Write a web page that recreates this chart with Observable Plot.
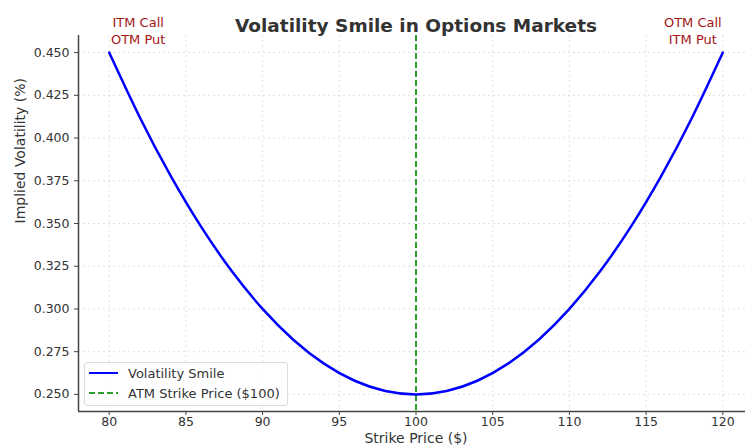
<!DOCTYPE html>
<html><head><meta charset="utf-8">
<script src="https://cdn.jsdelivr.net/npm/d3@7"></script>
<script src="https://cdn.jsdelivr.net/npm/@observablehq/plot@0.6"></script>
<style>
body{margin:0;background:#fff;font-family:"DejaVu Sans",sans-serif;}
#wrap{position:relative;width:745px;height:448px;overflow:hidden;}
#chart svg{max-width:none !important;}
#legend{position:absolute;left:84px;top:362px;width:204px;height:44px;border:1px solid #ddd;border-radius:3px;background:rgba(255,255,255,0.85);font-size:13px;color:#333;box-sizing:border-box;}
.row{position:absolute;left:4px;height:16px;display:flex;align-items:center;white-space:nowrap;}
.row svg{margin-right:10px;}
</style></head>
<body><div id="wrap"><div id="chart"></div>
<div id="legend">
<div class="row" style="top:2px"><svg width="29" height="4"><line x1="0" y1="2" x2="29" y2="2" stroke="#0000ff" stroke-width="2"/></svg>Volatility Smile</div>
<div class="row" style="top:22px"><svg width="29" height="4"><line x1="0" y1="2" x2="29" y2="2" stroke="#2ca02c" stroke-width="2" stroke-dasharray="6,3"/></svg>ATM Strike Price ($100)</div>
</div></div>
<script>
const strikes = [80,82,84,86,88,90,92,94,96,98,100,102,104,106,108,110,112,114,116,118,120];
const vols    = [0.450,0.412,0.378,0.348,0.322,0.300,0.282,0.268,0.258,0.252,0.250,0.252,0.258,0.268,0.282,0.300,0.322,0.348,0.378,0.412,0.450];
const xTicks = [80,85,90,95,100,105,110,115,120];
const yTicks = [0.250,0.275,0.300,0.325,0.350,0.375,0.400,0.425,0.450];
const atmStrike = 100;
const annotations = [
  {x: 80, y: 0.45, label: "ITM Call\nOTM Put"},
  {x: 120, y: 0.45, label: "OTM Call\nITM Put"}
];
const data = strikes.map((k,i)=>({k, v: vols[i]}));

const chart = Plot.plot({
  width: 760, height: 448,
  marginLeft: 78, marginRight: 7, marginTop: 35, marginBottom: 37,
  style: {fontFamily: "DejaVu Sans, sans-serif", fontSize: "12.5px", color: "#333", background: "#fff"},
  x: {domain: [78, 122]},
  y: {domain: [0.24, 0.46]},
  marks: [
    Plot.gridX(xTicks, {stroke: "#ccc", strokeOpacity: 0.6, strokeDasharray: "2,3"}),
    Plot.gridY(yTicks, {stroke: "#ccc", strokeOpacity: 0.6, strokeDasharray: "2,3"}),
    Plot.axisX({ticks: xTicks, tickSize: 4, tickPadding: 2, fontSize: 12.5, stroke: "#444", label: null}),
    Plot.axisY({ticks: yTicks, tickFormat: ".3f", tickSize: 4, fontSize: 12.5, stroke: "#444", label: null}),
    Plot.text(["Strike Price ($)"], {frameAnchor: "bottom", dy: 31, fontSize: 14, fill: "#333"}),
    Plot.text(["Implied Volatility (%)"], {frameAnchor: "left", dx: -58, rotate: -90, fontSize: 14, fill: "#333"}),
    Plot.ruleY([0.24], {stroke: "#444", strokeWidth: 1.5}),
    Plot.ruleX([78], {stroke: "#444", strokeWidth: 1.5}),
    Plot.ruleX([atmStrike], {stroke: "#2ca02c", strokeWidth: 2, strokeDasharray: "6,3"}),
    Plot.line(data, {x: "k", y: "v", stroke: "#0000ff", strokeWidth: 2.5, curve: "natural"}),
    Plot.text([annotations[0]], {x: "x", y: "y", text: "label", fill: "#a31515", fontSize: 13, lineAnchor: "bottom", dy: -9, dx: 29, lineHeight: 1.25}),
    Plot.text([annotations[1]], {x: "x", y: "y", text: "label", fill: "#a31515", fontSize: 13, lineAnchor: "bottom", dy: -9, dx: -30, lineHeight: 1.25}),
    Plot.text(["Volatility Smile in Options Markets"], {frameAnchor: "top", dy: -17, fontSize: 18.5, fontWeight: "bold", fill: "#333"})
  ]
});
document.getElementById("chart").appendChild(chart);
</script>
</body></html>
